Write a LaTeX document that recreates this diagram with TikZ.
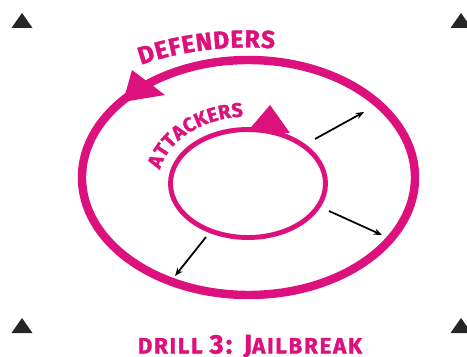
\documentclass[tikz,border=0pt]{standalone}
\usepackage{fontspec}
\setmainfont{Fira Sans}[BoldFeatures={FakeBold=1.5}]
\usetikzlibrary{arrows.meta,decorations.text}
\definecolor{drillpink}{RGB}{221,17,125}

\begin{document}
\begin{tikzpicture}
	[x=0.03cm,y=0.03cm,
	 ring/.style={draw=drillpink},
	 head/.style={fill=drillpink},
	 cone/.style={fill=black!85},
	 runner/.style={-{Stealth[length=7pt,width=5.5pt]},line width=1.5pt},
	 ringtext/.style 2 args={decorate,decoration={text along path,text align=fit to path,text={|\bfseries\fontsize{#1}{#1}\selectfont\color{drillpink}|#2}}}]
	\useasboundingbox (0,0) rectangle (467,356);
	\clip (0,0) rectangle (467,356);

	% centres of the two rings
	\coordinate (O) at (248.5,178.5);
	\coordinate (I) at (248,172.5);

	% cones in the corners
	\foreach \cx/\cy in {22/328,461/328,22/23,461/23}
		\fill[cone] (\cx-10.5,\cy) -- (\cx+10.5,\cy) -- (\cx,\cy+15) -- cycle;

	% outer ring (defenders), running anticlockwise
	\draw[ring,line width=7.2pt] (O) ellipse [x radius=166.5,y radius=117.5];
	\fill[head] (132,286) -- (165,261) -- (123,254) -- cycle;

	% inner ring (attackers)
	\draw[ring,line width=4.2pt] (I) ellipse [x radius=77.5,y radius=54];
	\fill[head] (247,224) -- (290,223) -- (270,251) -- cycle;

	% ring labels
	\path[ringtext={21}{DEFENDERS}] (141,291.1)
		arc [start angle=120,end angle=83,x radius=215,y radius=130];
	\path[ringtext={17}{ATTACKERS}] (160,186.4)
		arc [start angle=168,end angle=93,x radius=90,y radius=67];

	% attackers breaking out
	\coordinate (ne0) at (315,217);
	\coordinate (ne1) at (364,244);
	\coordinate (se0) at (329,145);
	\coordinate (se1) at (382,121);
	\coordinate (sw0) at (206,119);
	\coordinate (sw1) at (175,80);
	\foreach \r in {ne,se,sw}
		\draw[runner] (\r0) -- (\r1);

	% title
	\node[anchor=base,inner sep=0pt,text=drillpink,font=\bfseries\addfontfeatures{LetterSpace=8}] (title) at (250,2.5)
		{\fontsize{19}{19}\selectfont DRILL \fontsize{23}{23}\selectfont 3: J\fontsize{19}{19}\selectfont AILBREAK};
\end{tikzpicture}
\end{document}
